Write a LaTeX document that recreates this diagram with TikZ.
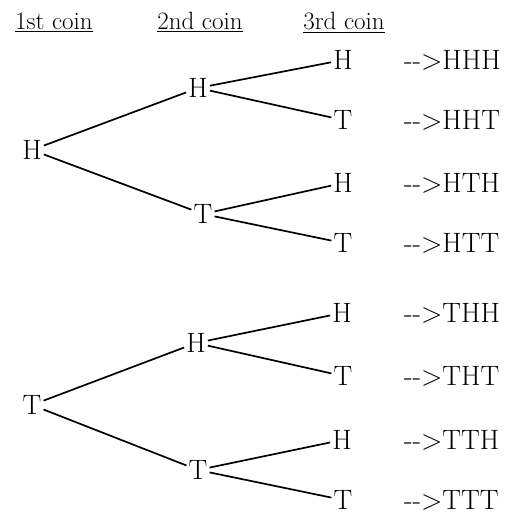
\documentclass[tikz,border=0pt]{standalone}
\usepackage{tikz}

\begin{document}
\begin{tikzpicture}[x=1pt, y=-1pt,
	coin/.style = {font=\fontsize{28}{32}\selectfont, inner sep=2pt},
	outcome/.style = {font=\fontsize{28}{32}\selectfont, anchor=west, inner sep=0pt},
	head/.style = {font=\fontsize{25}{29}\selectfont, anchor=base, inner sep=0pt},
	branch/.style = {line width=1.7pt}]
	\useasboundingbox (0,0) rectangle (520,514);
	\node[head] (c1) at (54, 30){\underline{1st coin}};
	\node[head] (c2) at (200, 30){\underline{2nd coin}};
	\node[head] (c3) at (344, 30){\underline{3rd coin}};
	\node[coin] (h) at (32, 150){H};
	\node[coin] (t) at (32, 405){T};
	\node[coin] (hh) at (198, 88){H};
	\node[coin] (ht) at (203, 214){T};
	\node[coin] (th) at (196, 343){H};
	\node[coin] (tt) at (198, 470){T};
	\node[coin] (hhh) at (343, 60){H};
	\node[coin] (hht) at (343, 120){T};
	\node[coin] (hth) at (343, 183){H};
	\node[coin] (htt) at (343, 243){T};
	\node[coin] (thh) at (342, 313){H};
	\node[coin] (tht) at (343, 376){T};
	\node[coin] (tth) at (342, 440){H};
	\node[coin] (ttt) at (343, 500){T};
	\node[outcome] (o1) at (404, 60){-{}->HHH};
	\node[outcome] (o2) at (404, 120){-{}->HHT};
	\node[outcome] (o3) at (404, 183){-{}->HTH};
	\node[outcome] (o4) at (404, 243){-{}->HTT};
	\node[outcome] (o5) at (404, 313){-{}->THH};
	\node[outcome] (o6) at (404, 376){-{}->THT};
	\node[outcome] (o7) at (404, 440){-{}->TTH};
	\node[outcome] (o8) at (404, 500){-{}->TTT};
	\draw[branch] (h) -- (hh);
	\draw[branch] (h) -- (ht);
	\draw[branch] (t) -- (th);
	\draw[branch] (t) -- (tt);
	\draw[branch] (hh) -- (hhh);
	\draw[branch] (hh) -- (hht);
	\draw[branch] (ht) -- (hth);
	\draw[branch] (ht) -- (htt);
	\draw[branch] (th) -- (thh);
	\draw[branch] (th) -- (tht);
	\draw[branch] (tt) -- (tth);
	\draw[branch] (tt) -- (ttt);
\end{tikzpicture}
\end{document}
